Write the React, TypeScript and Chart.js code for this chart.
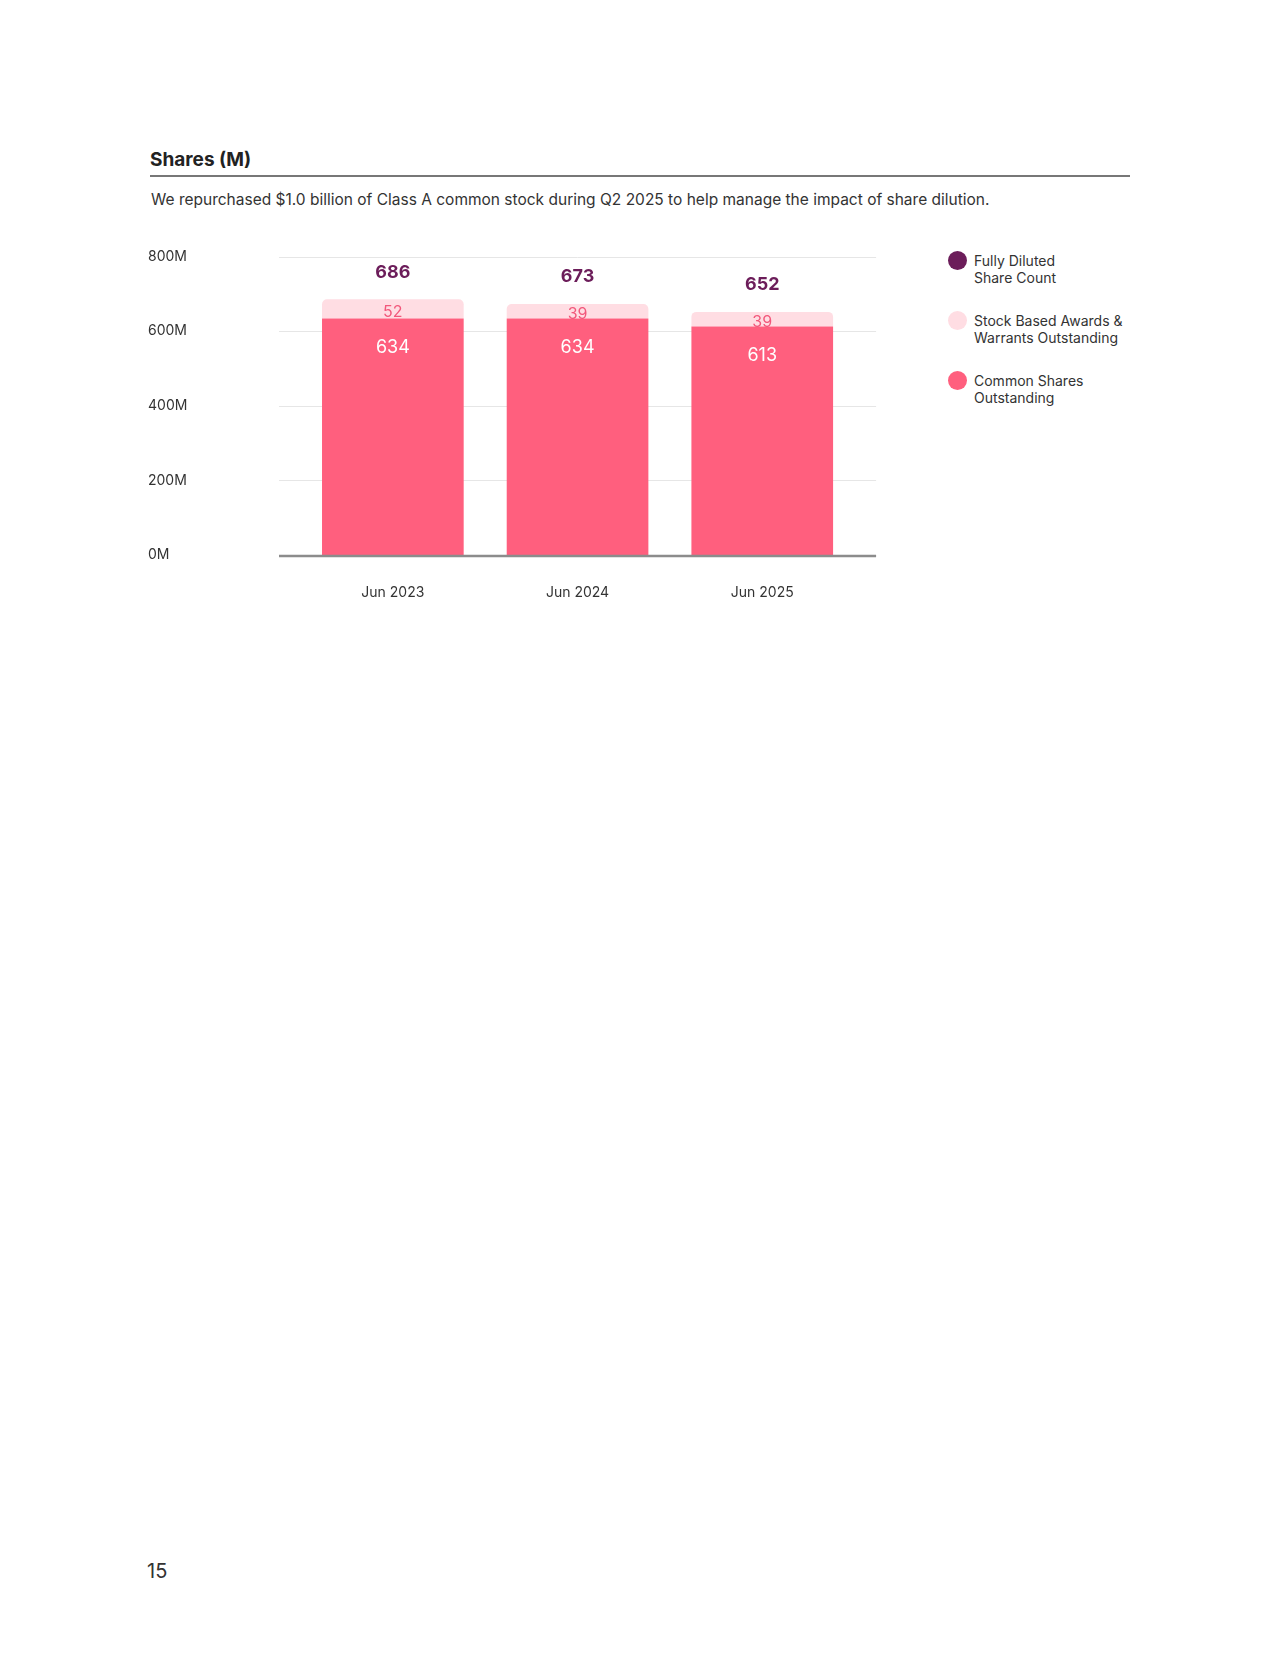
import { useEffect, useRef } from "react"
import { Chart, registerables } from "chart.js"

Chart.register(...registerables)

// Data (millions of shares)
const periods = ["Jun 2023", "Jun 2024", "Jun 2025"]
const commonShares = [634, 634, 613]
const stockAwards = [52, 39, 39]
const fullyDiluted = [686, 673, 652]
const yTicks = [0, 200, 400, 600, 800]

const FONT = "Inter, 'Noto Sans', sans-serif"
const PINK = "#FF5F7E"
const LIGHT_PINK = "#FFDDE3"
const PURPLE = "#6C1D5A"
const GRID_EXT = 21.5 // grid lines run a bit past the outer categories

const legendItems = [
  { color: PURPLE, lines: ["Fully Diluted", "Share Count"] },
  { color: LIGHT_PINK, lines: ["Stock Based Awards &", "Warrants Outstanding"] },
  { color: PINK, lines: ["Common Shares", "Outstanding"] },
]

// light horizontal grid + grey baseline, slightly wider than the category band
const extendedGrid = {
  id: "extendedGrid",
  beforeDatasetsDraw(chart: Chart) {
    const { ctx, chartArea } = chart
    const y = chart.scales.y
    const left = chartArea.left - GRID_EXT
    const right = chartArea.right + GRID_EXT
    ctx.save()
    ctx.strokeStyle = "#e6e6e6"
    ctx.lineWidth = 1
    yTicks.forEach((v) => {
      if (v === 0) return
      const py = Math.round(y.getPixelForValue(v)) + 0.5
      ctx.beginPath()
      ctx.moveTo(left, py)
      ctx.lineTo(right, py)
      ctx.stroke()
    })
    ctx.restore()
  },
  afterDatasetsDraw(chart: Chart) {
    const { ctx, chartArea } = chart
    const py = chart.scales.y.getPixelForValue(0) + 1
    ctx.save()
    ctx.strokeStyle = "#8c8c8c"
    ctx.lineWidth = 2.5
    ctx.beginPath()
    ctx.moveTo(chartArea.left - GRID_EXT, py)
    ctx.lineTo(chartArea.right + GRID_EXT, py)
    ctx.stroke()
    ctx.restore()
  },
}

const valueLabels = {
  id: "valueLabels",
  afterDatasetsDraw(chart: Chart) {
    const ctx = chart.ctx
    ctx.save()
    ctx.textAlign = "center"
    ctx.textBaseline = "middle"

    chart.getDatasetMeta(0).data.forEach((bar: any, i) => {
      ctx.fillStyle = "#ffffff"
      ctx.font = `400 18px ${FONT}`
      ctx.fillText(String(commonShares[i]), bar.x, bar.y + 29)
    })
    chart.getDatasetMeta(1).data.forEach((bar: any, i) => {
      ctx.fillStyle = "#F2587B"
      ctx.font = `400 16px ${FONT}`
      ctx.fillText(String(stockAwards[i]), bar.x, (bar.y + bar.base) / 2 + 3)
    })
    chart.getDatasetMeta(2).data.forEach((pt: any, i) => {
      ctx.fillStyle = PURPLE
      ctx.font = `700 18px ${FONT}`
      ctx.fillText(String(fullyDiluted[i]), pt.x, pt.y - 27)
    })
    ctx.restore()
  },
}

function SharesChart() {
  const chartRef = useRef<HTMLCanvasElement>(null)
  const chartInstance = useRef<Chart | null>(null)

  useEffect(() => {
    if (!chartRef.current) return
    if (chartInstance.current) chartInstance.current.destroy()
    const ctx = chartRef.current.getContext("2d")
    if (!ctx) return

    chartInstance.current = new Chart(ctx, {
      type: "bar",
      data: {
        labels: periods,
        datasets: [
          {
            label: "Common Shares Outstanding",
            data: commonShares,
            backgroundColor: PINK,
            barPercentage: 0.767,
            categoryPercentage: 1,
            stack: "shares",
            borderRadius: 0,
          },
          {
            label: "Stock Based Awards & Warrants Outstanding",
            data: stockAwards,
            backgroundColor: LIGHT_PINK,
            barPercentage: 0.767,
            categoryPercentage: 1,
            stack: "shares",
            borderSkipped: false,
            borderRadius: { topLeft: 5, topRight: 5, bottomLeft: 0, bottomRight: 0 },
          },
          {
            type: "line",
            label: "Fully Diluted Share Count",
            data: fullyDiluted,
            borderColor: PURPLE,
            backgroundColor: PURPLE,
            showLine: false,
            pointRadius: 0,
            stack: "total",
          } as any,
        ],
      },
      options: {
        responsive: true,
        maintainAspectRatio: false,
        animation: false,
        layout: { padding: { left: 8, top: 16.7, right: 45.4, bottom: 25 } },
        plugins: {
          legend: { display: false },
          tooltip: { enabled: false },
        },
        scales: {
          x: {
            stacked: true,
            offset: true,
            grid: { display: false, drawTicks: false },
            border: { display: false },
            afterFit: (axis: any) => {
              axis.height = 60
            },
            ticks: {
              autoSkip: false,
              maxRotation: 0,
              padding: 29,
              color: "#333333",
              font: { family: FONT, size: 14 },
            },
          },
          y: {
            stacked: true,
            min: 0,
            max: 800,
            afterBuildTicks: (axis: any) => {
              axis.ticks = yTicks.map((v) => ({ value: v }))
            },
            afterFit: (axis: any) => {
              axis.width = 152.5
            },
            grid: { display: false, drawTicks: false },
            border: { display: false },
            ticks: {
              crossAlign: "far",
              color: "#333333",
              font: { family: FONT, size: 14 },
              callback: (value: any) => `${value}M`,
            },
          },
        },
      },
      plugins: [extendedGrid, valueLabels],
    })

    return () => {
      if (chartInstance.current) {
        chartInstance.current.destroy()
        chartInstance.current = null
      }
    }
  }, [])

  return (
    <div style={{ position: "absolute", left: 140, top: 240, width: 760, height: 400 }}>
      <canvas ref={chartRef}></canvas>
    </div>
  )
}

export default function App() {
  return (
    <div style={{ fontFamily: FONT, color: "#333", background: "#fff", width: 1264, height: 1640 }}>
      <div
        style={{
          position: "absolute",
          left: 150,
          top: 150,
          fontSize: 19,
          lineHeight: "19px",
          fontWeight: 700,
          color: "#222",
        }}
      >
        Shares (M)
      </div>
      <div style={{ position: "absolute", left: 150, top: 175, width: 980, height: 2, background: "#777" }} />
      <div style={{ position: "absolute", left: 151, top: 191.5, fontSize: 15.5, lineHeight: "16px", color: "#333" }}>
        We repurchased $1.0 billion of Class A common stock during Q2 2025 to help manage the impact of share dilution.
      </div>

      <SharesChart />

      {legendItems.map((item, i) => {
        const cy = 260.5 + i * 60
        return (
          <div key={i}>
            <div
              style={{
                position: "absolute",
                left: 948,
                top: cy - 9.5,
                width: 19,
                height: 19,
                borderRadius: "50%",
                background: item.color,
              }}
            />
            <div
              style={{
                position: "absolute",
                left: 974,
                top: cy - 8.75,
                fontSize: 14,
                lineHeight: "17.5px",
                color: "#333",
                whiteSpace: "nowrap",
              }}
            >
              {item.lines.map((l, j) => (
                <div key={j}>{l}</div>
              ))}
            </div>
          </div>
        )
      })}

      <div style={{ position: "absolute", left: 147, top: 1561, fontSize: 20, lineHeight: "20px", color: "#333" }}>
        15
      </div>
    </div>
  )
}
